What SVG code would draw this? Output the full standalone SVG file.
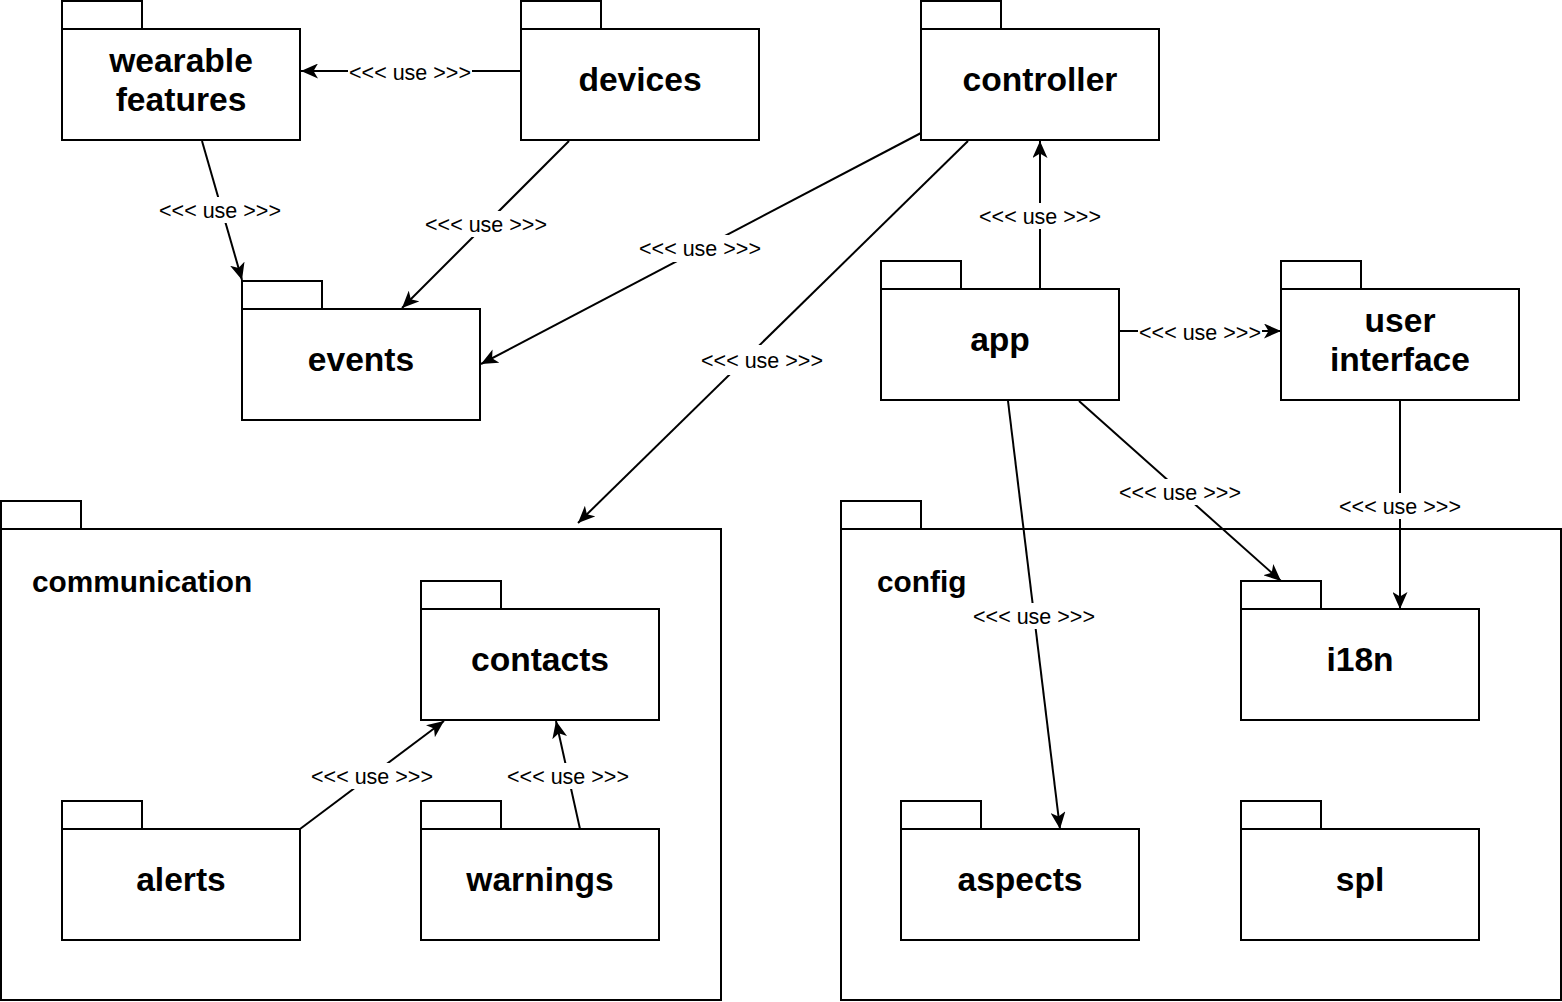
<svg xmlns="http://www.w3.org/2000/svg" width="1562" height="1002" viewBox="0 0 1562 1002">
<style>
.b{fill:#fff;stroke:#000;stroke-width:2}
.t{font-family:"Liberation Sans",Arial,Helvetica,sans-serif;font-weight:bold;font-size:33.6px;text-anchor:middle;fill:#000}
.ct{font-family:"Liberation Sans",Arial,Helvetica,sans-serif;font-weight:bold;font-size:29.8px;fill:#000}
.e{fill:none;stroke:#000;stroke-width:2;marker-end:url(#arr)}
.lb{fill:#fff}
.l{font-family:"Liberation Sans",Arial,Helvetica,sans-serif;font-size:21.5px;text-anchor:middle;fill:#000}
</style>
<defs>
<marker id="arr" markerUnits="userSpaceOnUse" viewBox="0 0 17 15" refX="17" refY="7.5" markerWidth="17" markerHeight="15" orient="auto">
<path d="M0,0 L17,7.5 L0,15 L4.5,7.5 Z" fill="#000"/>
</marker>
</defs>
<rect width="1562" height="1002" fill="#fff"/>
<g id="communication">
<rect class="b" x="1" y="501" width="80" height="28"/>
<rect class="b" x="1" y="529" width="720" height="471"/>
<text class="ct" x="32" y="591.5">communication</text>
</g>
<g id="config">
<rect class="b" x="841" y="501" width="80" height="28"/>
<rect class="b" x="841" y="529" width="720" height="471"/>
<text class="ct" x="877" y="591.5">config</text>
</g>
<g id="wearable-features">
<rect class="b" x="62" y="1" width="80" height="28"/>
<rect class="b" x="62" y="29" width="238" height="111"/>
<text class="t" x="181" y="72">wearable</text>
<text class="t" x="181" y="111">features</text>
</g>
<g id="devices">
<rect class="b" x="521" y="1" width="80" height="28"/>
<rect class="b" x="521" y="29" width="238" height="111"/>
<text class="t" x="640" y="91">devices</text>
</g>
<g id="controller">
<rect class="b" x="921" y="1" width="80" height="28"/>
<rect class="b" x="921" y="29" width="238" height="111"/>
<text class="t" x="1040" y="91">controller</text>
</g>
<g id="events">
<rect class="b" x="242" y="281" width="80" height="28"/>
<rect class="b" x="242" y="309" width="238" height="111"/>
<text class="t" x="361" y="371">events</text>
</g>
<g id="app">
<rect class="b" x="881" y="261" width="80" height="28"/>
<rect class="b" x="881" y="289" width="238" height="111"/>
<text class="t" x="1000" y="351">app</text>
</g>
<g id="user-interface">
<rect class="b" x="1281" y="261" width="80" height="28"/>
<rect class="b" x="1281" y="289" width="238" height="111"/>
<text class="t" x="1400" y="332">user</text>
<text class="t" x="1400" y="371">interface</text>
</g>
<g id="contacts">
<rect class="b" x="421" y="581" width="80" height="28"/>
<rect class="b" x="421" y="609" width="238" height="111"/>
<text class="t" x="540" y="671">contacts</text>
</g>
<g id="alerts">
<rect class="b" x="62" y="801" width="80" height="28"/>
<rect class="b" x="62" y="829" width="238" height="111"/>
<text class="t" x="181" y="891">alerts</text>
</g>
<g id="warnings">
<rect class="b" x="421" y="801" width="80" height="28"/>
<rect class="b" x="421" y="829" width="238" height="111"/>
<text class="t" x="540" y="891">warnings</text>
</g>
<g id="i18n">
<rect class="b" x="1241" y="581" width="80" height="28"/>
<rect class="b" x="1241" y="609" width="238" height="111"/>
<text class="t" x="1360" y="671">i18n</text>
</g>
<g id="aspects">
<rect class="b" x="901" y="801" width="80" height="28"/>
<rect class="b" x="901" y="829" width="238" height="111"/>
<text class="t" x="1020" y="891">aspects</text>
</g>
<g id="spl">
<rect class="b" x="1241" y="801" width="80" height="28"/>
<rect class="b" x="1241" y="829" width="238" height="111"/>
<text class="t" x="1360" y="891">spl</text>
</g>
<g id="connectors">
<path class="e" d="M521,71 L301,71"/>
<path class="e" d="M202,141 L242,280"/>
<path class="e" d="M569,141 L402,308"/>
<path class="e" d="M921,133 L481,364"/>
<path class="e" d="M968,141 L578,523"/>
<path class="e" d="M1040,289 L1040,141"/>
<path class="e" d="M1119,331 L1281,331"/>
<path class="e" d="M1079,401 L1281,581"/>
<path class="e" d="M1400,400 L1400,609"/>
<path class="e" d="M1008,401 L1060,829"/>
<path class="e" d="M300,829 L444,721"/>
<path class="e" d="M580,829 L556,721"/>
<g id="labels">
<rect class="lb" x="348" y="59" width="124" height="26"/><text class="l" x="410" y="79.5">&lt;&lt;&lt; use &gt;&gt;&gt;</text>
<rect class="lb" x="158" y="197" width="124" height="26"/><text class="l" x="220" y="217.5">&lt;&lt;&lt; use &gt;&gt;&gt;</text>
<rect class="lb" x="424" y="211" width="124" height="26"/><text class="l" x="486" y="231.5">&lt;&lt;&lt; use &gt;&gt;&gt;</text>
<rect class="lb" x="638" y="235" width="124" height="27"/><text class="l" x="700" y="255.5">&lt;&lt;&lt; use &gt;&gt;&gt;</text>
<rect class="lb" x="700" y="345" width="124" height="30"/><text class="l" x="762" y="367.5">&lt;&lt;&lt; use &gt;&gt;&gt;</text>
<rect class="lb" x="978" y="203" width="124" height="26"/><text class="l" x="1040" y="223.5">&lt;&lt;&lt; use &gt;&gt;&gt;</text>
<rect class="lb" x="1138" y="319" width="124" height="26"/><text class="l" x="1200" y="339.5">&lt;&lt;&lt; use &gt;&gt;&gt;</text>
<rect class="lb" x="1118" y="479" width="124" height="26"/><text class="l" x="1180" y="499.5">&lt;&lt;&lt; use &gt;&gt;&gt;</text>
<rect class="lb" x="1338" y="493" width="124" height="26"/><text class="l" x="1400" y="513.5">&lt;&lt;&lt; use &gt;&gt;&gt;</text>
<rect class="lb" x="972" y="603" width="124" height="26"/><text class="l" x="1034" y="623.5">&lt;&lt;&lt; use &gt;&gt;&gt;</text>
<rect class="lb" x="310" y="763" width="124" height="26"/><text class="l" x="372" y="783.5">&lt;&lt;&lt; use &gt;&gt;&gt;</text>
<rect class="lb" x="506" y="763" width="124" height="26"/><text class="l" x="568" y="783.5">&lt;&lt;&lt; use &gt;&gt;&gt;</text>
</g>
</g>
</svg>
